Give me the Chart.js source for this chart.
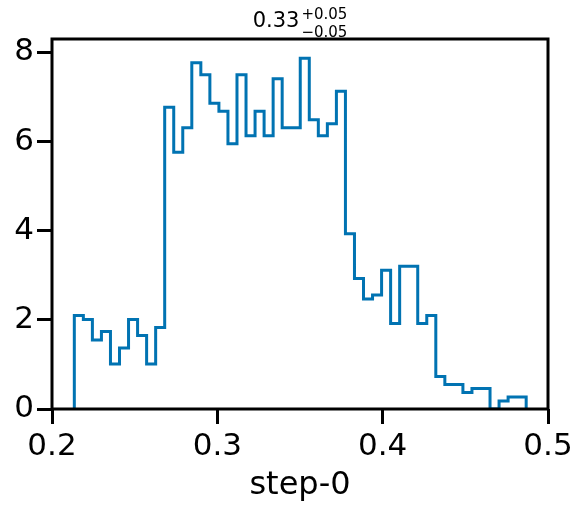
<!DOCTYPE html>
<html>
<head>
<meta charset="utf-8">
<script src="https://cdn.jsdelivr.net/npm/chart.js@4"></script>
<style>
  html, body { margin: 0; padding: 0; background: #fff; }
  #wrap { width: 580px; height: 510px; }
</style>
</head>
<body>
<div id="wrap"><canvas id="histChart"></canvas></div>
<script>
// histogram range (first and last bin edge) and bin heights (density)
const binLo = 0.2135;
const binHi = 0.4868;
const density = [
  2.10, 2.01, 1.55, 1.74, 1.01, 1.37, 2.01, 1.65, 1.01, 1.83,
  6.77, 5.76, 6.31, 7.77, 7.50, 6.86, 6.68, 5.95, 7.50, 6.13,
  6.68, 6.13, 7.41, 6.31, 6.31, 7.87, 6.49, 6.13, 6.40, 7.13,
  3.93, 2.93, 2.47, 2.56, 3.11, 1.92, 3.20, 3.20, 1.92, 2.10,
  0.73, 0.55, 0.55, 0.37, 0.46, 0.46, 0.00, 0.18, 0.27, 0.27
];
const xTicks = [0.2, 0.3, 0.4, 0.5];
const yTicks = [0, 2, 4, 6, 8];
const titleMain = '0.33';
const titleUpper = '+0.05';
const titleLower = '\u22120.05';
const xLabel = 'step-0';

const lineColor = '#0173b2';
const fontFamily = "'DejaVu Sans', sans-serif";

// step outline: each point is the right edge of a bin at that bin's height,
// drawn vertical-first ('after') so the rise happens at the left edge
const nBins = density.length;
const binW = (binHi - binLo) / nBins;
const points = [{ x: binLo, y: 0 }];
density.forEach((v, i) => points.push({ x: binLo + (i + 1) * binW, y: v }));
points.push({ x: binHi, y: 0 });

// frame + mathtext title
const framePlugin = {
  id: 'frame',
  afterDraw(chart) {
    const { ctx, chartArea: a } = chart;
    ctx.save();
    ctx.strokeStyle = '#000';
    ctx.lineWidth = 3;
    ctx.strokeRect(a.left, a.top, a.right - a.left, a.bottom - a.top);

    ctx.fillStyle = '#000';
    ctx.textBaseline = 'alphabetic';
    ctx.textAlign = 'left';
    ctx.font = '21px ' + fontFamily;
    const wMain = ctx.measureText(titleMain).width;
    ctx.font = '15px ' + fontFamily;
    const wSup = Math.max(ctx.measureText(titleUpper).width, ctx.measureText(titleLower).width);
    const x0 = (a.left + a.right) / 2 - (wMain + 2 + wSup) / 2;
    ctx.font = '21px ' + fontFamily;
    ctx.fillText(titleMain, x0, 27);
    ctx.font = '15px ' + fontFamily;
    ctx.fillText(titleUpper, x0 + wMain + 2, 19);
    ctx.fillText(titleLower, x0 + wMain + 2, 37);
    ctx.restore();
  }
};

new Chart(document.getElementById('histChart'), {
  type: 'line',
  data: {
    datasets: [{
      data: points,
      stepped: 'after',
      borderColor: lineColor,
      borderWidth: 3,
      pointRadius: 0,
      fill: false,
      tension: 0,
    }]
  },
  options: {
    responsive: true,
    maintainAspectRatio: false,
    animation: false,
    layout: { padding: { left: 0, right: 32, top: 39, bottom: 0 } },
    plugins: {
      legend: { display: false },
      tooltip: { enabled: false },
    },
    scales: {
      x: {
        type: 'linear',
        min: 0.2,
        max: 0.5,
        afterBuildTicks: (s) => { s.ticks = xTicks.map(v => ({ value: v })); },
        afterFit: (s) => { s.height = 101; s.paddingLeft = 0; s.paddingRight = 0; },
        grid: { drawOnChartArea: false, drawTicks: true, tickLength: 15, tickWidth: 3, tickColor: '#000' },
        border: { display: false },
        ticks: {
          padding: 4,
          color: '#000',
          font: { family: fontFamily, size: 31 },
          maxRotation: 0,
          callback: (v) => v.toFixed(1),
        },
        title: {
          display: true,
          text: xLabel,
          color: '#000',
          font: { family: fontFamily, size: 32 },
          padding: { top: 0, bottom: 5 },
        },
      },
      y: {
        type: 'linear',
        min: 0,
        max: 8.3,
        afterBuildTicks: (s) => { s.ticks = yTicks.map(v => ({ value: v })); },
        afterFit: (s) => { s.width = 52; s.paddingTop = 0; s.paddingBottom = 0; },
        grid: { drawOnChartArea: false, drawTicks: true, tickLength: 15, tickWidth: 3, tickColor: '#000' },
        border: { display: false },
        ticks: {
          padding: 3,
          color: '#000',
          font: { family: fontFamily, size: 31 },
          callback: (v) => String(v),
        },
      },
    },
  },
  plugins: [framePlugin],
});
</script>
</body>
</html>
